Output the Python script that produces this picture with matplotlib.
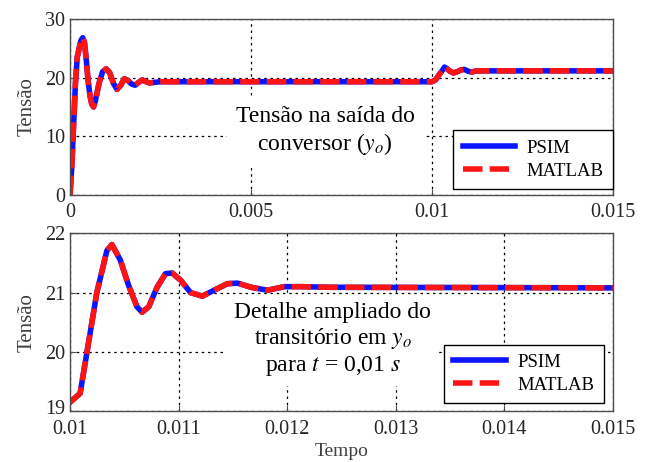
import matplotlib.pyplot as plt
import matplotlib.transforms as mtransforms

plt.rcParams['font.family'] = ['Liberation Serif', 'DejaVu Serif']
plt.rcParams['mathtext.fontset'] = 'stix'

# Top plot: full response (time in s, voltage)
t_full = [0, 0.00005, 0.0001, 0.00015, 0.0002, 0.0003, 0.00035, 0.0004, 0.00045,
          0.0005, 0.00055, 0.0006, 0.00065, 0.0007, 0.0008, 0.0009, 0.001, 0.0011,
          0.0012, 0.0013, 0.0014, 0.0015, 0.0016, 0.0017, 0.0018, 0.0019, 0.002,
          0.0021, 0.0022, 0.0025, 0.01, 0.0101, 0.0102, 0.0103, 0.01035, 0.0104,
          0.0105, 0.0106, 0.0107, 0.0108, 0.0109, 0.011, 0.0111, 0.0112, 0.0113, 0.015]
v_psim = [0, 5, 12, 19, 23.5, 26.3, 26.8, 26, 23, 19.5, 17, 15.5, 15, 16, 19, 21,
          21.5, 20.8, 19, 18, 18.7, 19.8, 19.5, 18.9, 18.7, 19.2, 19.6, 19.3, 19.1,
          19.3, 19.3, 19.6, 20.5, 21.3, 21.8, 21.6, 21.1, 20.8, 21.0, 21.3, 21.4,
          21.1, 20.95, 21.1, 21.15, 21.15]
v_matlab = v_psim

# Bottom plot: zoom on transient after t = 0.01 s
t_zoom = [0.01, 0.010093, 0.010154, 0.010247, 0.01034, 0.010386, 0.010463, 0.01054,
          0.010617, 0.010664, 0.010725, 0.010802, 0.01088, 0.010941, 0.011019,
          0.01111, 0.011219, 0.011327, 0.01145, 0.011543, 0.011667, 0.01182,
          0.011975, 0.01213, 0.01238, 0.015]
vz_psim = [19.15, 19.3, 19.97, 21.0, 21.71, 21.81, 21.55, 21.12, 20.76, 20.67,
           20.76, 21.09, 21.32, 21.33, 21.21, 21.0, 20.94, 21.04, 21.15, 21.16,
           21.09, 21.04, 21.1, 21.1, 21.09, 21.08]
vz_matlab = vz_psim

fig = plt.figure(figsize=(6.5, 4.62), dpi=100)
ax1 = fig.add_axes([0.1077, 0.578, 0.835, 0.381])
ax2 = fig.add_axes([0.1077, 0.110, 0.835, 0.385])

BLUE = '#0a14ff'
RED = '#ff1414'
DASH = (0, (3.5, 1.3))


def style(ax):
    ax.grid(True, linestyle=(0, (2, 3)), color='black', linewidth=0.9)
    ax.tick_params(direction='in', labelsize=14.5, length=4, color='0.3')
    ax.tick_params(axis='x', pad=6)
    for s in ax.spines.values():
        s.set_color('0.3')
        s.set_linewidth(1.0)
    ax.set_ylabel('Tensão', fontsize=15, color='0.25', labelpad=6)
    for lbl in ax.get_xticklabels() + ax.get_yticklabels():
        lbl.set_color('0.15')


def legend(ax, anchor):
    leg = ax.legend(loc='lower right', bbox_to_anchor=anchor, borderaxespad=0,
                    fontsize=13.5, fancybox=False, framealpha=1, edgecolor='black',
                    handlelength=2.8, handletextpad=0.6, labelspacing=0.3,
                    borderpad=0.5)
    leg.get_frame().set_linewidth(1.0)


ax1.plot(t_full, v_psim, color=BLUE, lw=4, label='PSIM')
ax1.plot(t_full, v_matlab, color=RED, lw=4, ls=DASH, label='MATLAB')
ax1.set_xlim(0, 0.015)
ax1.set_ylim(0, 30)
ax1.set_xticks([0, 0.005, 0.01, 0.015])
ax1.set_xticklabels(['0', '0.005', '0.01', '0.015'])
ax1.set_yticks([0, 10, 20, 30])
style(ax1)
ax1.text(0.47, 0.36, 'Tensão na saída do\nconversor ($y_o$)', transform=ax1.transAxes,
         ha='center', va='center', fontsize=17, linespacing=1.25,
         bbox=dict(facecolor='white', edgecolor='none', pad=6), zorder=5)
legend(ax1, (1.0, 0.034))

ax2.plot(t_zoom, vz_psim, color=BLUE, lw=4, label='PSIM')
ax2.plot(t_zoom, vz_matlab, color=RED, lw=4, ls=DASH, label='MATLAB')
ax2.set_xlim(0.01, 0.015)
ax2.set_ylim(19, 22)
ax2.set_xticks([0.01, 0.011, 0.012, 0.013, 0.014, 0.015])
ax2.set_xticklabels(['0.01', '0.011', '0.012', '0.013', '0.014', '0.015'])
ax2.set_yticks([19, 20, 21, 22])
style(ax2)
ax2.set_xlabel('Tempo', fontsize=14, color='0.25', labelpad=3)
ax2.text(0.484, 0.40, 'Detalhe ampliado do\ntransitório em $y_o$\npara $t$ = 0,01 $s$',
         transform=ax2.transAxes, ha='center', va='center', fontsize=17,
         linespacing=1.15, bbox=dict(facecolor='white', edgecolor='none', pad=6), zorder=5)
legend(ax2, (0.983, 0.045))

# lift the lowest y label a bit so it does not collide with "0.01"
lift = mtransforms.ScaledTranslation(0, 3 / 72, fig.dpi_scale_trans)
ylbl = ax2.get_yticklabels()[0]
ylbl.set_transform(ylbl.get_transform() + lift)

fig.savefig('out.png', dpi=100, facecolor='white')
